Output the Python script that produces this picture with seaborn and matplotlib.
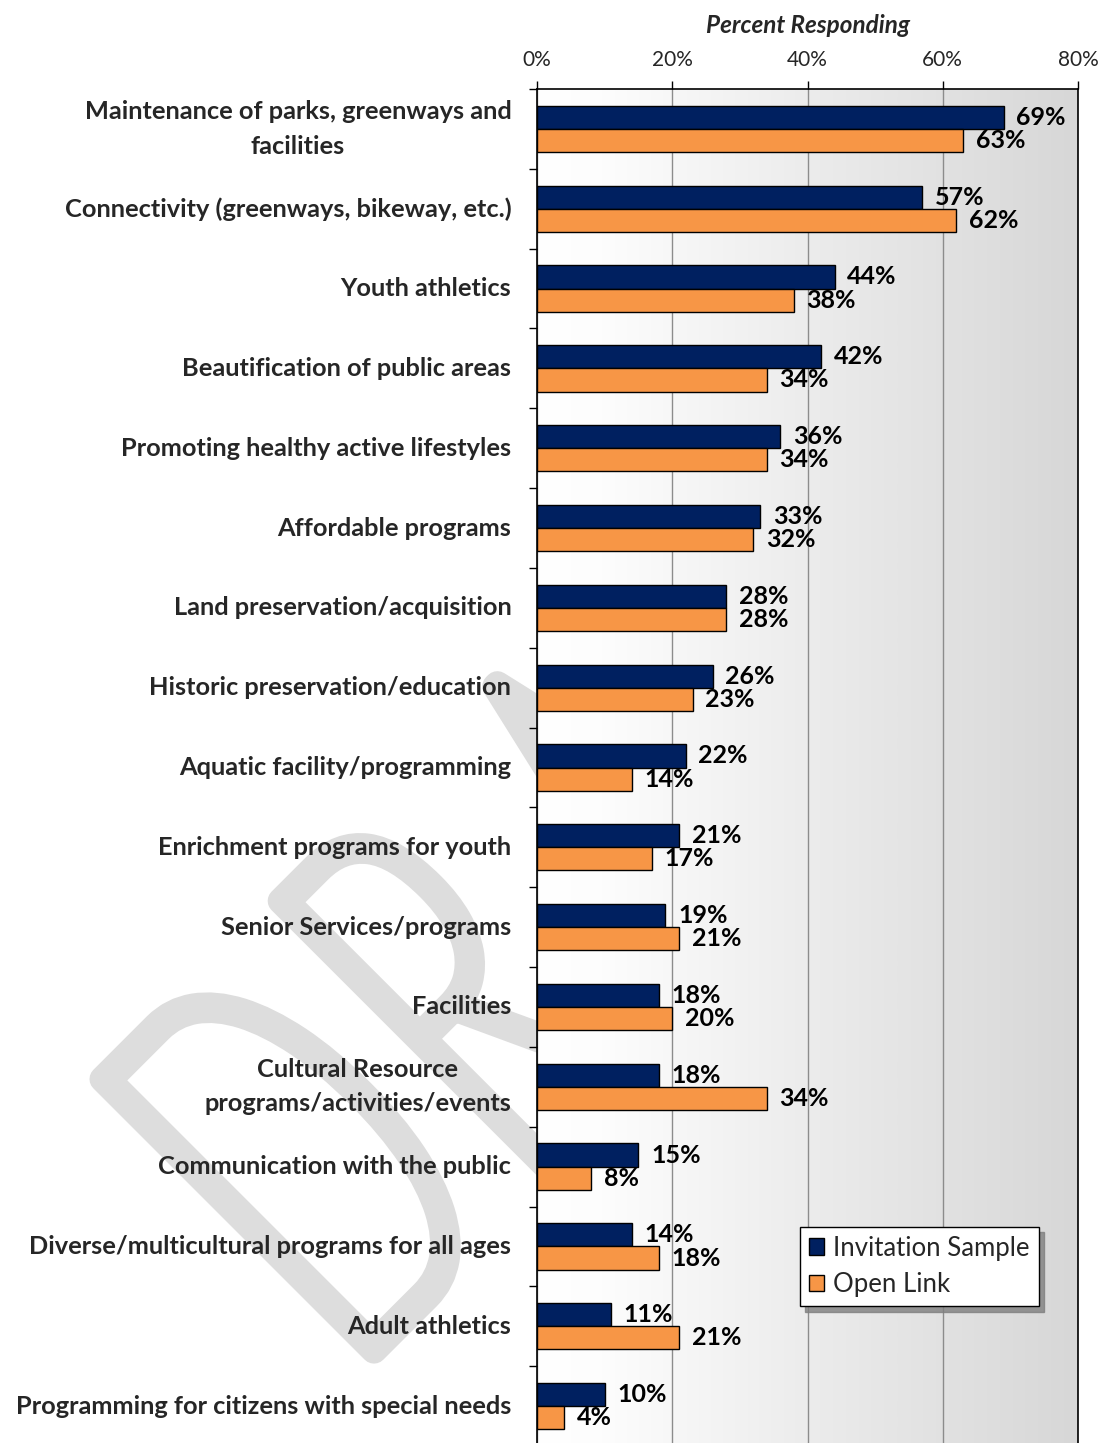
import numpy as np
import pandas as pd
import matplotlib
matplotlib.use("Agg")
import matplotlib.pyplot as plt
import seaborn as sns
from matplotlib.textpath import TextPath
from matplotlib.patches import PathPatch, Patch
from matplotlib.font_manager import FontProperties
from matplotlib.transforms import Affine2D
from matplotlib.colors import LinearSegmentedColormap

# ---------------- data ----------------
categories = [
    "Maintenance of parks, greenways and\nfacilities",
    "Connectivity (greenways, bikeway, etc.)",
    "Youth athletics",
    "Beautification of public areas",
    "Promoting healthy active lifestyles",
    "Affordable programs",
    "Land preservation/acquisition",
    "Historic preservation/education",
    "Aquatic facility/programming",
    "Enrichment programs for youth",
    "Senior Services/programs",
    "Facilities",
    "Cultural Resource\nprograms/activities/events",
    "Communication with the public",
    "Diverse/multicultural programs for all ages",
    "Adult athletics",
    "Programming for citizens with special needs",
]
invitation = [69, 57, 44, 42, 36, 33, 28, 26, 22, 21, 19, 18, 18, 15, 14, 11, 10]
open_link = [63, 62, 38, 34, 34, 32, 28, 23, 14, 17, 21, 20, 34, 8, 18, 21, 4]
series_names = ["Invitation Sample", "Open Link"]
x_ticks = [0, 20, 40, 60, 80]
x_tick_labels = ["0%", "20%", "40%", "60%", "80%"]
axis_title = "Percent Responding"
watermark = "DRAFT"

NAVY = "#002060"
ORANGE = "#F79646"

df = pd.DataFrame({
    "category": categories * 2,
    "value": invitation + open_link,
    "series": [series_names[0]] * len(categories) + [series_names[1]] * len(categories),
})

sns.set_theme(style="white")
plt.rcParams["font.family"] = ["Lato", "DejaVu Sans"]

W, H = 1105, 1443
fig = plt.figure(figsize=(W / 100, H / 100), dpi=100)
fig.patch.set_facecolor("white")

# ---------------- watermark (behind everything, left of plot only) ----------------
wax = fig.add_axes([0, 0, 537 / W, 1], zorder=0)
wax.set_xlim(0, 537)
wax.set_ylim(0, H)
wax.axis("off")
fp = FontProperties(family="Lato", weight=100)
e = 26.0                     # monoline stroke width in px
capD = TextPath((0, 0), "D", size=100, prop=fp).get_extents()
sy = (410 - e) / capD.height
sx = (200 - e) / capD.width
origin = (374.0, H - 1369 + e / 2 * 1.414)
cursor = 0.0
gap = 52 + e
for ch in watermark:
    tp = TextPath((0, 0), ch, size=100, prop=fp)
    ext = tp.get_extents()
    tr = (Affine2D().translate(-ext.x0, 0).scale(sx, sy).translate(cursor, 0)
          .rotate_deg(45).translate(*origin))
    wax.add_patch(PathPatch(tp, facecolor="#dddddd", edgecolor="#dddddd",
                            lw=e * 0.72, transform=tr + wax.transData,
                            joinstyle="round", capstyle="round"))
    cursor += ext.width * sx + gap

# ---------------- main axes ----------------
ax = fig.add_axes([537 / W, (H - 1446) / H, (1078 - 537) / W, (1446 - 89) / H], zorder=2)

grad_cmap = LinearSegmentedColormap.from_list(
    "bg", [(0.0, "#ffffff"), (0.12, "#fdfdfd"), (0.5, "#ececec"), (1.0, "#d7d7d7")])
grad = np.linspace(0, 1, 512).reshape(1, -1)
ax.imshow(grad, extent=(0, 1, 0, 1), transform=ax.transAxes, aspect="auto",
          cmap=grad_cmap, zorder=0, interpolation="bilinear")

sns.barplot(data=df, y="category", x="value", hue="series", hue_order=series_names,
            palette=[NAVY, ORANGE], saturation=1, orient="h", width=0.58, gap=0,
            errorbar=None, edgecolor="black", linewidth=1.0, legend=False, ax=ax, zorder=3)

for cont in ax.containers:
    vals = [int(round(b.get_width())) for b in cont]
    ax.bar_label(cont, labels=[f"{v}%" for v in vals], padding=9,
                 fontsize=18, fontweight="bold", color="black")

ax.set_xlim(0, 80)
ax.set_ylim(len(categories) - 0.5, -0.5)
ax.set_xticks(x_ticks)
ax.set_xticklabels(x_tick_labels, fontsize=15)
ax.xaxis.tick_top()
ax.xaxis.set_label_position("top")
ax.set_xlabel(axis_title, fontsize=17.5, fontweight="bold", fontstyle="italic", labelpad=12)
ax.tick_params(axis="x", direction="out", length=6, width=1, color="black", pad=8,
               top=True, bottom=False)
ax.grid(axis="x", color="#8c8c8c", linewidth=1.0, zorder=1)
ax.grid(axis="y", visible=False)

ax.set_yticks(range(len(categories)))
ax.set_yticklabels(categories, fontsize=18.3, fontweight="bold", multialignment="center",
                   linespacing=1.6, va="center")
ax.set_yticks(np.arange(-0.5, len(categories), 1.0), minor=True)
ax.tick_params(axis="y", which="major", length=0, pad=18.5)
ax.tick_params(axis="y", which="minor", length=6, width=1, color="black", direction="out", left=True)
ax.set_ylabel("")

for s in ["top", "left", "right"]:
    ax.spines[s].set_visible(True)
    ax.spines[s].set_color("black")
    ax.spines[s].set_linewidth(1.2)
ax.spines["bottom"].set_visible(False)

handles = [Patch(facecolor=NAVY, edgecolor="black", lw=1),
           Patch(facecolor=ORANGE, edgecolor="black", lw=1)]
leg = ax.legend(handles, series_names, loc="lower left", bbox_to_anchor=(0.486, 0.103),
                borderaxespad=0, fontsize=18.5, frameon=True, fancybox=False,
                edgecolor="black", framealpha=1, handlelength=0.6, handleheight=0.6,
                handletextpad=0.35, labelspacing=0.45, borderpad=0.35,
                shadow={"color": "#7f7f7f", "alpha": 0.8, "ox": 4, "oy": -4})
leg.get_frame().set_linewidth(1.0)
leg.set_zorder(10)

fig.savefig("out.png", dpi=100, facecolor="white")
